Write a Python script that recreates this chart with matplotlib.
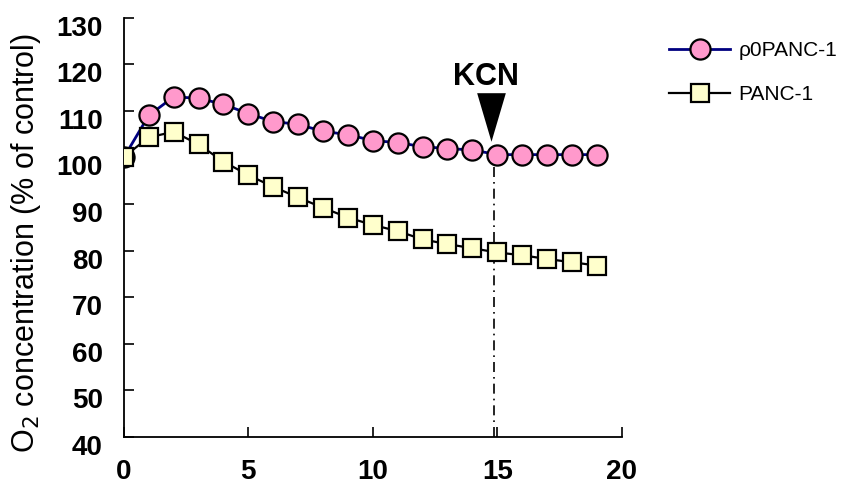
import matplotlib
matplotlib.use("Agg")
import matplotlib.pyplot as plt
import matplotlib.transforms as mtransforms

# time points and O2 values (% of control)
time_pts = list(range(0, 20))
rho0_panc1 = [100.0, 109.0, 113.0, 112.7, 111.4, 109.4, 107.7, 107.1, 105.6, 104.9,
              103.6, 103.2, 102.3, 101.9, 101.6, 100.6, 100.6, 100.6, 100.6, 100.6]
panc1 = [100.1, 104.3, 105.5, 102.8, 99.1, 96.2, 93.7, 91.4, 89.2, 87.1,
         85.5, 84.2, 82.4, 81.4, 80.5, 79.6, 79.0, 78.2, 77.5, 76.8]
kcn_time = 14.85
x_ticks = [0, 5, 10, 15, 20]
y_ticks = [40, 50, 60, 70, 80, 90, 100, 110, 120, 130]

plt.rcParams['font.family'] = ['Liberation Sans', 'DejaVu Sans']

fig = plt.figure(figsize=(8.54, 5.04), dpi=100)
ax = fig.add_axes([0.145, 0.133, 0.583, 0.832])

ax.plot(time_pts, rho0_panc1, color='#000080', lw=2.0, marker='o', ms=14.5,
        mfc='#FF99CC', mec='black', mew=1.6, label='\u03c10PANC-1', zorder=3)
ax.plot(time_pts, panc1, color='black', lw=1.6, marker='s', ms=13,
        mfc='#FFFFCC', mec='black', mew=1.6, label='PANC-1', zorder=4)

# KCN addition
ax.plot([kcn_time, kcn_time], [40, rho0_panc1[15]], color='black', lw=1.2,
        ls=(0, (6, 3, 1, 3)), zorder=2)
ax.plot([14.75], [108.6], marker=[(-0.59, 1), (0.59, 1), (0, -1)], ms=35,
        color='black', mew=0, zorder=5)
ax.text(14.55, 117.3, 'KCN', fontsize=22, fontweight='bold',
        ha='center', va='center')

ax.set_xlim(0, 20)
ax.set_ylim(40, 130)
ax.set_xticks(x_ticks)
ax.set_yticks(y_ticks)
ax.spines['top'].set_visible(False)
ax.spines['right'].set_visible(False)
ax.spines['left'].set_linewidth(1.3)
ax.spines['bottom'].set_linewidth(1.3)
ax.tick_params(axis='x', direction='in', length=7, width=1.2, pad=16, labelsize=20)
ax.tick_params(axis='y', direction='in', length=7, width=1.2, pad=15, labelsize=20)
shift = mtransforms.ScaledTranslation(0, -8 / 100, fig.dpi_scale_trans)
for lbl in ax.get_xticklabels() + ax.get_yticklabels():
    lbl.set_fontweight('bold')
for lbl in ax.get_yticklabels():
    lbl.set_transform(lbl.get_transform() + shift)

ax.set_ylabel('O$_2$ concentration (% of control)', fontsize=22)
ax.yaxis.set_label_coords(-0.163, 0.463)

fig.legend(loc='upper left', bbox_to_anchor=(0.762, 0.955), frameon=False,
           fontsize=15, handlelength=2.9, labelspacing=1.2, handletextpad=0.4)

fig.savefig('out.png', dpi=100)
